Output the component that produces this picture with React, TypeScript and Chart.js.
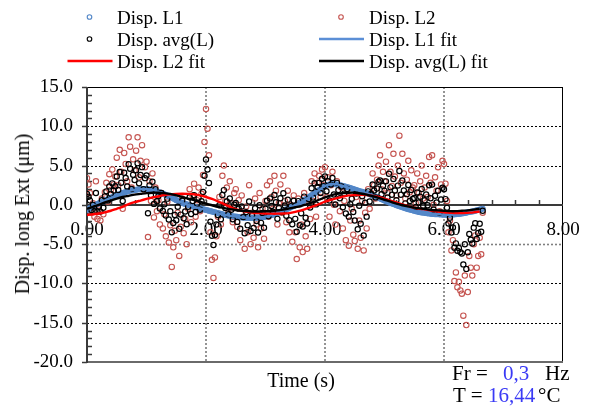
import React, { useEffect, useRef } from "react";
import { Chart, registerables } from "chart.js";

Chart.register(...registerables);

// ---------- DATA ----------
const TIME_S = [
  0, 0.025, 0.05, 0.075, 0.1, 0.125, 0.15, 0.175, 0.2, 0.225, 0.25, 0.275, 0.3, 0.325, 0.35, 0.375, 0.4, 0.425, 0.45, 0.475,
  0.5, 0.525, 0.55, 0.575, 0.6, 0.625, 0.65, 0.675, 0.7, 0.725, 0.75, 0.775, 0.8, 0.825, 0.85, 0.875, 0.9, 0.925, 0.95, 0.975,
  1, 1.025, 1.05, 1.075, 1.1, 1.125, 1.15, 1.175, 1.2, 1.225, 1.25, 1.275, 1.3, 1.325, 1.35, 1.375, 1.4, 1.425, 1.45, 1.475,
  1.5, 1.525, 1.55, 1.575, 1.6, 1.625, 1.65, 1.675, 1.7, 1.725, 1.75, 1.775, 1.8, 1.825, 1.85, 1.875, 1.9, 1.925, 1.95, 1.975,
  2, 2.025, 2.05, 2.075, 2.1, 2.125, 2.15, 2.175, 2.2, 2.225, 2.25, 2.275, 2.3, 2.325, 2.35, 2.375, 2.4, 2.425, 2.45, 2.475,
  2.5, 2.525, 2.55, 2.575, 2.6, 2.625, 2.65, 2.675, 2.7, 2.725, 2.75, 2.775, 2.8, 2.825, 2.85, 2.875, 2.9, 2.925, 2.95, 2.975,
  3, 3.025, 3.05, 3.075, 3.1, 3.125, 3.15, 3.175, 3.2, 3.225, 3.25, 3.275, 3.3, 3.325, 3.35, 3.375, 3.4, 3.425, 3.45, 3.475,
  3.5, 3.525, 3.55, 3.575, 3.6, 3.625, 3.65, 3.675, 3.7, 3.725, 3.75, 3.775, 3.8, 3.825, 3.85, 3.875, 3.9, 3.925, 3.95, 3.975,
  4, 4.025, 4.05, 4.075, 4.1, 4.125, 4.15, 4.175, 4.2, 4.225, 4.25, 4.275, 4.3, 4.325, 4.35, 4.375, 4.4, 4.425, 4.45, 4.475,
  4.5, 4.525, 4.55, 4.575, 4.6, 4.625, 4.65, 4.675, 4.7, 4.725, 4.75, 4.775, 4.8, 4.825, 4.85, 4.875, 4.9, 4.925, 4.95, 4.975,
  5, 5.025, 5.05, 5.075, 5.1, 5.125, 5.15, 5.175, 5.2, 5.225, 5.25, 5.275, 5.3, 5.325, 5.35, 5.375, 5.4, 5.425, 5.45, 5.475,
  5.5, 5.525, 5.55, 5.575, 5.6, 5.625, 5.65, 5.675, 5.7, 5.725, 5.75, 5.775, 5.8, 5.825, 5.85, 5.875, 5.9, 5.925, 5.95, 5.975,
  6, 6.025, 6.05, 6.075, 6.1, 6.125, 6.15, 6.175, 6.2, 6.225, 6.25, 6.275, 6.3, 6.325, 6.35, 6.375, 6.4, 6.425, 6.45, 6.475,
  6.5, 6.525, 6.55, 6.575, 6.6, 6.625, 6.65,
];

const DISP_L1 = [
  -0.65, -0.55, -0.42, -0.3, -0.2, -0.1, 0.0, 0.1, 0.2, 0.28, 0.37, 0.46, 0.55, 0.63, 0.72, 0.8, 0.9, 0.97, 1.05, 1.12,
  1.2, 1.28, 1.35, 1.43, 1.5, 1.56, 1.63, 1.69, 1.75, 1.79, 1.83, 1.87, 1.9, 1.93, 1.95, 1.98, 2.0, 2.0, 2.01, 2.0,
  2.0, 1.98, 1.96, 1.93, 1.9, 1.84, 1.78, 1.72, 1.65, 1.58, 1.5, 1.43, 1.35, 1.26, 1.18, 1.09, 1.0, 0.9, 0.8, 0.7,
  0.6, 0.51, 0.42, 0.33, 0.25, 0.18, 0.12, 0.06, 0.0, -0.06, -0.12, -0.19, -0.25, -0.3, -0.35, -0.4, -0.45, -0.5, -0.55, -0.6,
  -0.65, -0.7, -0.75, -0.8, -0.85, -0.9, -0.95, -1.0, -1.05, -1.1, -1.15, -1.2, -1.25, -1.29, -1.33, -1.37, -1.4, -1.43, -1.45, -1.48,
  -1.5, -1.53, -1.55, -1.58, -1.6, -1.61, -1.63, -1.64, -1.65, -1.65, -1.66, -1.65, -1.65, -1.64, -1.63, -1.62, -1.6, -1.58, -1.55, -1.53,
  -1.5, -1.45, -1.41, -1.36, -1.3, -1.24, -1.18, -1.12, -1.05, -0.98, -0.9, -0.83, -0.75, -0.66, -0.57, -0.49, -0.4, -0.31, -0.22, -0.14,
  -0.05, 0.05, 0.15, 0.25, 0.35, 0.47, 0.6, 0.72, 0.85, 0.97, 1.1, 1.22, 1.35, 1.49, 1.62, 1.76, 1.9, 2.02, 2.15, 2.27,
  2.4, 2.47, 2.54, 2.6, 2.65, 2.65, 2.64, 2.62, 2.6, 2.55, 2.5, 2.45, 2.4, 2.35, 2.3, 2.25, 2.2, 2.14, 2.08, 2.01,
  1.95, 1.89, 1.83, 1.76, 1.7, 1.65, 1.6, 1.55, 1.5, 1.43, 1.35, 1.28, 1.2, 1.13, 1.05, 0.98, 0.9, 0.81, 0.72, 0.64,
  0.55, 0.47, 0.4, 0.32, 0.25, 0.17, 0.1, 0.03, -0.05, -0.11, -0.18, -0.24, -0.3, -0.36, -0.43, -0.49, -0.55, -0.6, -0.65, -0.7,
  -0.75, -0.8, -0.85, -0.9, -0.95, -0.97, -1.0, -1.02, -1.05, -1.08, -1.1, -1.13, -1.15, -1.16, -1.18, -1.19, -1.2, -1.21, -1.23, -1.24,
  -1.25, -1.25, -1.25, -1.25, -1.25, -1.24, -1.23, -1.21, -1.2, -1.17, -1.15, -1.12, -1.1, -1.06, -1.03, -0.99, -0.95, -0.91, -0.88, -0.84,
  -0.8, -0.75, -0.7, -0.65, -0.6, -0.55, -0.5,
];

const DISP_L2 = [
  3.4, 2.6, 1.5, -1.0, 0.2, -1.5, 3.0, -1.8, -0.6, -2.0, 0.8, -1.2, 1.6, 2.8, 0.4, 3.9, 1.9, 4.5, 2.6, 3.6,
  6.0, 2.5, 7.0, 4.2, -0.5, 6.6, 5.2, 3.0, 8.6, 7.4, 2.2, 5.8, 4.4, 6.9, 8.6, 3.5, 5.6, 7.6, 2.0, 4.8,
  5.5, -4.1, 3.0, 0.5, 4.0, -1.6, 2.2, -0.8, 0.6, -2.5, 1.5, -3.0, -1.2, -4.0, 0.4, -4.8, -2.6, -7.9, -5.4, -3.3,
  -4.5, -1.0, -6.5, -2.8, 0.8, -3.6, -1.8, -5.0, -0.5, 2.0, -2.2, 1.2, 2.7, -1.5, 0.6, 2.2, -0.8, 1.4, 3.8, 8.0,
  12.2, 9.7, 6.3, -3.5, -7.0, -9.3, -6.7, -4.0, -1.5, 1.0, -2.5, 3.7, 5.0, 0.5, 2.2, -1.0, 3.0, 0.2, -2.2, 1.5,
  2.0, -2.8, 0.6, -4.5, 1.2, -1.5, -5.6, -0.2, -3.5, 2.5, -5.0, -1.0, -4.2, 0.8, -2.5, -5.4, 1.5, -3.0, -0.5, -4.3,
  0.5, 2.5, -1.5, 3.0, 1.0, -0.5, 3.7, 1.8, -2.5, 0.2, 2.6, -1.0, 3.7, 0.5, -2.2, 1.8, -3.5, 0.0, -4.7, 1.2,
  -3.5, -6.9, 0.8, -5.4, -2.5, -6.0, 1.5, -4.0, -5.6, 0.5, -1.8, 3.0, 0.5, 4.0, -1.5, 2.8, 3.7, 1.0, 4.5, 2.5,
  4.8, 1.0, 3.5, -1.5, 2.5, 4.2, 0.0, -2.5, 3.0, 1.2, -0.8, 2.2, -3.0, 0.5, -4.5, 1.8, -5.2, -2.0, -0.5, -3.8,
  -4.6, 1.0, -5.6, -2.0, -4.2, 0.5, -5.8, -1.0, -3.0, 2.0, -0.5, 1.5, 4.0, 2.5, 0.8, 3.2, 5.0, 6.3, 2.0, 4.2,
  3.0, 5.5, 1.5, 7.6, 4.2, 2.4, 6.5, 3.6, 1.2, 5.0, 8.8, 2.8, 6.5, 4.0, 0.8, 3.2, 5.6, 1.6, 4.4, 2.2,
  2.5, 0.2, 4.0, 1.5, 3.0, 5.0, 0.8, 2.2, 3.7, 1.0, 6.1, 2.8, 6.3, 0.0, 3.5, 1.8, 4.8, -0.8, 2.6, 5.6,
  5.2, 2.7, 0.5, -3.5, -2.0, -5.8, -4.5, -9.7, -8.6, -10.5, -9.8, -10.9, -11.3, -14.1, -9.0, -15.3, -11.1, -6.5, -8.0, -9.0,
  -5.0, -3.9, -8.0, -6.5, -4.2, -6.3, -1.0,
];

const DISP_AVG = [
  1.38, 1.03, 0.54, -0.65, 0.0, -0.8, 1.5, -0.85, -0.2, -0.86, 0.59, -0.37, 1.08, 1.72, 0.56, 2.35, 1.4, 2.74, 1.83, 2.36,
  3.6, 1.89, 4.18, 2.82, 0.5, 4.08, 3.42, 2.35, 5.18, 4.6, 2.02, 3.84, 3.15, 4.42, 5.28, 2.74, 3.8, 4.8, 2.0, 3.4,
  3.75, -1.06, 2.48, 1.22, 2.95, 0.12, 1.99, 0.46, 1.13, -0.46, 1.5, -0.79, 0.08, -1.37, 0.79, -1.86, -0.8, -3.5, -2.3, -1.3,
  -1.95, -0.25, -3.04, -1.24, 0.53, -1.71, -0.84, -2.47, -0.25, 0.97, -1.16, 0.5, 1.23, -0.9, 0.13, 0.9, -0.63, 0.45, 1.63, 3.7,
  5.78, 4.5, 2.78, -2.15, -3.93, -5.1, -3.83, -2.5, -1.28, -0.05, -1.83, 1.25, 1.88, -0.4, 0.44, -1.19, 0.8, -0.62, -1.83, 0.01,
  0.25, -2.17, -0.48, -3.04, -0.2, -1.56, -3.62, -0.92, -2.58, 0.43, -3.33, -1.33, -2.93, -0.42, -2.07, -3.51, -0.05, -2.29, -1.03, -2.92,
  -0.5, 0.53, -1.46, 0.82, -0.15, -0.87, 1.26, 0.34, -1.78, -0.39, 0.85, -0.92, 1.48, -0.08, -1.39, 0.66, -1.95, -0.16, -2.46, 0.53,
  -1.78, -3.43, 0.48, -2.58, -1.08, -2.77, 1.05, -1.64, -2.38, 0.74, -0.35, 2.11, 0.93, 2.75, 0.06, 2.28, 2.8, 1.51, 3.33, 2.39,
  3.6, 1.74, 3.02, 0.55, 2.58, 3.43, 1.32, 0.06, 2.8, 1.88, 0.85, 2.33, -0.3, 1.43, -1.1, 2.03, -1.5, 0.07, 0.79, -0.9,
  -2.0, 1.45, -3.1, -0.12, -2.4, 1.08, -3.9, 0.28, -1.5, 1.72, 0.43, 1.39, 2.6, 1.82, 0.93, 2.09, 2.95, 3.1, 1.36, 2.42,
  1.78, 2.99, 0.95, 3.96, 2.23, 1.29, 3.3, 1.82, 0.58, 2.45, 4.31, 1.28, 3.1, 1.82, 0.19, 1.36, 2.53, 0.5, 1.88, 0.75,
  0.88, -0.3, 1.58, 0.3, 1.03, 2.02, -0.1, 0.59, 1.33, -0.04, 2.5, 0.84, 2.58, -0.58, 1.16, 0.31, 1.8, -1.0, 0.69, 2.18,
  1.98, 0.73, -0.38, -2.38, -1.63, -3.52, -2.87, -5.46, -4.9, -5.84, -5.48, -6.01, -6.2, -7.58, -5.02, -8.15, -6.03, -3.71, -4.44, -4.92,
  -2.9, -2.33, -4.35, -3.58, -2.4, -3.43, -0.75,
];

const FIT_TIME_S = [
  0, 0.1, 0.2, 0.3, 0.4, 0.5, 0.6, 0.7, 0.8, 0.9,
  1, 1.1, 1.2, 1.3, 1.4, 1.5, 1.6, 1.7, 1.8, 1.9,
  2, 2.1, 2.2, 2.3, 2.4, 2.5, 2.6, 2.7, 2.8, 2.9,
  3, 3.1, 3.2, 3.3, 3.4, 3.5, 3.6, 3.7, 3.8, 3.9,
  4, 4.1, 4.2, 4.3, 4.4, 4.5, 4.6, 4.7, 4.8, 4.9,
  5, 5.1, 5.2, 5.3, 5.4, 5.5, 5.6, 5.7, 5.8, 5.9,
  6, 6.1, 6.2, 6.3, 6.4, 6.5, 6.6,
];

const FIT_L1 = [
  -0.65, -0.2, 0.2, 0.55, 0.9, 1.2, 1.5, 1.75, 1.9, 2.0,
  2.0, 1.9, 1.65, 1.35, 1.0, 0.6, 0.25, 0.0, -0.25, -0.45,
  -0.65, -0.85, -1.05, -1.25, -1.4, -1.5, -1.6, -1.65, -1.65, -1.6,
  -1.5, -1.3, -1.05, -0.75, -0.4, -0.05, 0.35, 0.85, 1.35, 1.9,
  2.4, 2.65, 2.6, 2.4, 2.2, 1.95, 1.7, 1.5, 1.2, 0.9,
  0.55, 0.25, -0.05, -0.3, -0.55, -0.75, -0.95, -1.05, -1.15, -1.2,
  -1.25, -1.25, -1.2, -1.1, -0.95, -0.8, -0.6,
];

const FIT_L2 = [
  -1.3, -1.2, -1.1, -0.95, -0.75, -0.5, -0.25, 0.1, 0.35, 0.55,
  0.75, 0.95, 1.1, 1.25, 1.35, 1.4, 1.42, 1.4, 1.35, 1.2,
  1.0, 0.75, 0.45, 0.1, -0.25, -0.55, -0.75, -0.9, -1.0, -1.05,
  -1.1, -1.12, -1.12, -1.1, -1.05, -0.9, -0.7, -0.45, -0.2, 0.1,
  0.4, 0.65, 0.85, 1.05, 1.2, 1.25, 1.28, 1.25, 1.15, 1.0,
  0.8, 0.55, 0.3, 0.05, -0.15, -0.35, -0.5, -0.6, -0.75, -0.85,
  -0.95, -1.0, -1.05, -1.05, -1.0, -0.95, -0.85,
];

const FIT_AVG = [
  -0.5, -0.25, 0.0, 0.3, 0.55, 0.8, 1.0, 1.15, 1.3, 1.4,
  1.5, 1.55, 1.55, 1.5, 1.4, 1.2, 1.0, 0.8, 0.6, 0.4,
  0.15, -0.05, -0.25, -0.4, -0.55, -0.65, -0.75, -0.8, -0.85, -0.85,
  -0.82, -0.78, -0.7, -0.6, -0.45, -0.3, -0.15, 0.1, 0.35, 0.65,
  0.95, 1.2, 1.4, 1.5, 1.55, 1.55, 1.45, 1.3, 1.1, 0.9,
  0.65, 0.4, 0.15, -0.05, -0.2, -0.35, -0.45, -0.55, -0.65, -0.7,
  -0.75, -0.8, -0.8, -0.75, -0.7, -0.6, -0.5,
];

const SERIES_NAMES = ["Disp. L1", "Disp. L2", "Disp. avg(L)", "Disp. L1 fit", "Disp. L2 fit", "Disp. avg(L) fit"];
const X_TITLE = "Time (s)";
const Y_TITLE = "Disp. long Ext (μm)";
const FREQ_LABEL = "Fr =";
const FREQ_VALUE = "0,3";
const FREQ_UNIT = "Hz";
const TEMP_LABEL = "T =";
const TEMP_VALUE = "16,44";
const TEMP_UNIT = "°C";

const X_MIN = 0, X_MAX = 8, X_STEP = 2, X_MINOR = 0.4;
const Y_MIN = -20, Y_MAX = 15, Y_STEP = 5, Y_MINOR = 1;

// ---------- STYLE ----------
const FONT = "'Liberation Serif', 'Times New Roman', serif";
const C_L1 = "#5387C8";
const C_L2 = "#C55450";
const C_AVG = "#000000";
const C_L2FIT = "#FF0000";
const C_VALUE = "#3A3AF5";

const toPoints = (xs: number[], ys: number[]) => xs.map((x, i) => ({ x, y: ys[i] }));

const framePlugin = {
  id: "frameAndGrid",
  beforeDatasetsDraw(chart: any) {
    const { ctx, chartArea: a, scales } = chart;
    const xs = scales.x;
    const ys = scales.y;
    const seg = (x1: number, y1: number, x2: number, y2: number) => {
      ctx.beginPath();
      ctx.moveTo(x1, y1);
      ctx.lineTo(x2, y2);
      ctx.stroke();
    };
    ctx.save();
    // horizontal dotted grid
    ctx.setLineDash([2, 2]);
    for (let v = Y_MIN + Y_STEP; v < Y_MAX; v += Y_STEP) {
      if (v === 0) continue;
      const py = Math.round(ys.getPixelForValue(v)) + 0.5;
      if (v === -5) {
        ctx.strokeStyle = "#808080";
        ctx.lineWidth = 1.6;
      } else {
        ctx.strokeStyle = "#000";
        ctx.lineWidth = 1;
      }
      seg(a.left, py, a.right, py);
    }
    // vertical dotted grid
    ctx.strokeStyle = "#7a7a7a";
    ctx.lineWidth = 1.6;
    for (let v = X_MIN + X_STEP; v < X_MAX; v += X_STEP) {
      const px = Math.round(xs.getPixelForValue(v));
      seg(px, a.top, px, a.bottom);
    }
    ctx.setLineDash([]);
    // frame
    ctx.strokeStyle = "#000";
    ctx.lineWidth = 1;
    seg(a.left, Math.round(a.top) + 0.5, a.right, Math.round(a.top) + 0.5);
    seg(Math.round(a.right) - 0.5, a.top, Math.round(a.right) - 0.5, a.bottom);
    ctx.strokeStyle = "#6a6a6a";
    ctx.lineWidth = 2;
    seg(a.left, Math.round(a.bottom), a.right, Math.round(a.bottom));
    // left axis
    ctx.strokeStyle = "#3a3a3a";
    ctx.lineWidth = 2;
    seg(Math.round(a.left), a.top, Math.round(a.left), a.bottom + 1);
    // y ticks
    ctx.lineWidth = 1.5;
    for (let v = Y_MIN; v <= Y_MAX; v += Y_MINOR) {
      const py = Math.round(ys.getPixelForValue(v)) + 0.5;
      if (v % Y_STEP === 0) seg(a.left - 5, py, a.left, py);
      else seg(a.left, py, a.left + 5, py);
    }
    // x axis line at y = 0
    const y0 = Math.round(ys.getPixelForValue(0));
    ctx.lineWidth = 2;
    seg(a.left, y0, a.right, y0);
    ctx.lineWidth = 1.5;
    for (let i = 1; X_MIN + i * X_MINOR < X_MAX - 1e-6; i++) {
      const v = X_MIN + i * X_MINOR;
      const px = Math.round(xs.getPixelForValue(v)) + 0.5;
      seg(px, y0, px, y0 - 5);
    }
    ctx.restore();
  },
};

function Txt(props: { left: number; cy: number; size: number; color?: string; children: React.ReactNode }) {
  const { left, cy, size, color, children } = props;
  return (
    <div
      style={{
        position: "absolute",
        left,
        top: cy - size / 2,
        fontSize: size,
        lineHeight: `${size}px`,
        color: color || "#000",
        whiteSpace: "nowrap",
        fontFamily: FONT,
      }}
    >
      {children}
    </div>
  );
}

export default function App() {
  const canvasRef = useRef<HTMLCanvasElement | null>(null);

  useEffect(() => {
    if (!canvasRef.current) return;
    const scatter = (label: string, ys: number[], color: string, r: number, bw: number, order: number) => ({
      label,
      data: toPoints(TIME_S, ys),
      showLine: false,
      pointRadius: r,
      pointBorderWidth: bw,
      pointBorderColor: color,
      pointBackgroundColor: "rgba(0,0,0,0)",
      borderColor: color,
      backgroundColor: "rgba(0,0,0,0)",
      order,
    });
    const fit = (label: string, ys: number[], color: string, order: number) => ({
      label,
      data: toPoints(FIT_TIME_S, ys),
      showLine: true,
      pointRadius: 0,
      borderColor: color,
      backgroundColor: color,
      borderWidth: 2.4,
      tension: 0.3,
      order,
    });
    const chart = new Chart(canvasRef.current, {
      type: "scatter",
      data: {
        datasets: [
          scatter(SERIES_NAMES[0], DISP_L1, C_L1, 2.4, 1.3, 5),
          scatter(SERIES_NAMES[1], DISP_L2, C_L2, 2.7, 1.1, 6),
          scatter(SERIES_NAMES[2], DISP_AVG, C_AVG, 2.6, 1.2, 4),
          fit(SERIES_NAMES[3], FIT_L1, C_L1, 3),
          fit(SERIES_NAMES[4], FIT_L2, C_L2FIT, 2),
          fit(SERIES_NAMES[5], FIT_AVG, C_AVG, 1),
        ] as any,
      },
      options: {
        animation: false,
        responsive: false,
        maintainAspectRatio: false,
        devicePixelRatio: 1,
        events: [],
        layout: { padding: { left: 0, top: 87, right: 31, bottom: 45 } },
        plugins: { legend: { display: false }, tooltip: { enabled: false }, title: { display: false } },
        scales: {
          x: {
            type: "linear",
            position: { y: 0 } as any,
            min: X_MIN,
            max: X_MAX,
            grid: { display: false, drawTicks: false },
            border: { display: false },
            ticks: {
              stepSize: X_STEP,
              padding: 14,
              color: "#000",
              font: { family: FONT, size: 19 },
              maxRotation: 0,
              callback: (v: any) => Number(v).toFixed(2),
            },
          },
          y: {
            type: "linear",
            min: Y_MIN,
            max: Y_MAX,
            grid: { display: false, drawTicks: true, tickLength: 5 },
            border: { display: false },
            ticks: {
              stepSize: Y_STEP,
              padding: 9,
              color: "#000",
              font: { family: FONT, size: 19 },
              callback: (v: any) => Number(v).toFixed(1),
            },
            afterFit: (s: any) => {
              s.width = 87;
            },
          },
        },
      } as any,
      plugins: [framePlugin],
    });
    return () => chart.destroy();
  }, []);

  const legendRows = [17, 39, 61];
  return (
    <div
      style={{
        position: "fixed",
        left: 0,
        top: 0,
        width: 594,
        height: 407,
        background: "#fff",
        overflow: "hidden",
        fontFamily: FONT,
      }}
    >
      <canvas
        ref={canvasRef}
        width={594}
        height={407}
        style={{ position: "absolute", left: 0, top: 0, width: 594, height: 407 }}
      />
      <svg width={594} height={75} style={{ position: "absolute", left: 0, top: 0 }}>
        <circle cx={89.5} cy={legendRows[0]} r={2.3} fill="none" stroke={C_L1} strokeWidth={1.1} />
        <circle cx={341} cy={legendRows[0]} r={2.3} fill="none" stroke={C_L2} strokeWidth={1.1} />
        <circle cx={89.5} cy={legendRows[1]} r={2.3} fill="none" stroke={C_AVG} strokeWidth={1.1} />
        <line x1={319} y1={legendRows[1]} x2={364} y2={legendRows[1]} stroke="#5B8FD6" strokeWidth={2.5} />
        <line x1={67.5} y1={legendRows[2]} x2={112.5} y2={legendRows[2]} stroke={C_L2FIT} strokeWidth={2.5} />
        <line x1={319} y1={legendRows[2]} x2={364} y2={legendRows[2]} stroke={C_AVG} strokeWidth={2.5} />
      </svg>
      <Txt left={117} cy={legendRows[0]} size={19}>{SERIES_NAMES[0]}</Txt>
      <Txt left={369} cy={legendRows[0]} size={19}>{SERIES_NAMES[1]}</Txt>
      <Txt left={117} cy={legendRows[1]} size={19}>{SERIES_NAMES[2]}</Txt>
      <Txt left={369} cy={legendRows[1]} size={19}>{SERIES_NAMES[3]}</Txt>
      <Txt left={117} cy={legendRows[2]} size={19}>{SERIES_NAMES[4]}</Txt>
      <Txt left={369} cy={legendRows[2]} size={19}>{SERIES_NAMES[5]}</Txt>

      <div
        style={{
          position: "absolute",
          left: 22,
          top: 213.5,
          transform: "translate(-50%, -50%) rotate(-90deg)",
          fontSize: 20,
          lineHeight: "20px",
          whiteSpace: "nowrap",
          fontFamily: FONT,
          color: "#000",
        }}
      >
        {Y_TITLE}
      </div>
      <div
        style={{
          position: "absolute",
          left: 301,
          top: 370,
          transform: "translateX(-50%)",
          fontSize: 20,
          lineHeight: "20px",
          whiteSpace: "nowrap",
          fontFamily: FONT,
          color: "#000",
        }}
      >
        {X_TITLE}
      </div>

      <Txt left={452} cy={373} size={21}>{FREQ_LABEL}</Txt>
      <Txt left={503} cy={373} size={21} color={C_VALUE}>{FREQ_VALUE}</Txt>
      <Txt left={545} cy={373} size={21}>{FREQ_UNIT}</Txt>
      <Txt left={453} cy={395} size={21}>{TEMP_LABEL}</Txt>
      <Txt left={488} cy={395} size={21} color={C_VALUE}>{TEMP_VALUE}</Txt>
      <Txt left={538} cy={395} size={21}>{TEMP_UNIT}</Txt>
    </div>
  );
}
